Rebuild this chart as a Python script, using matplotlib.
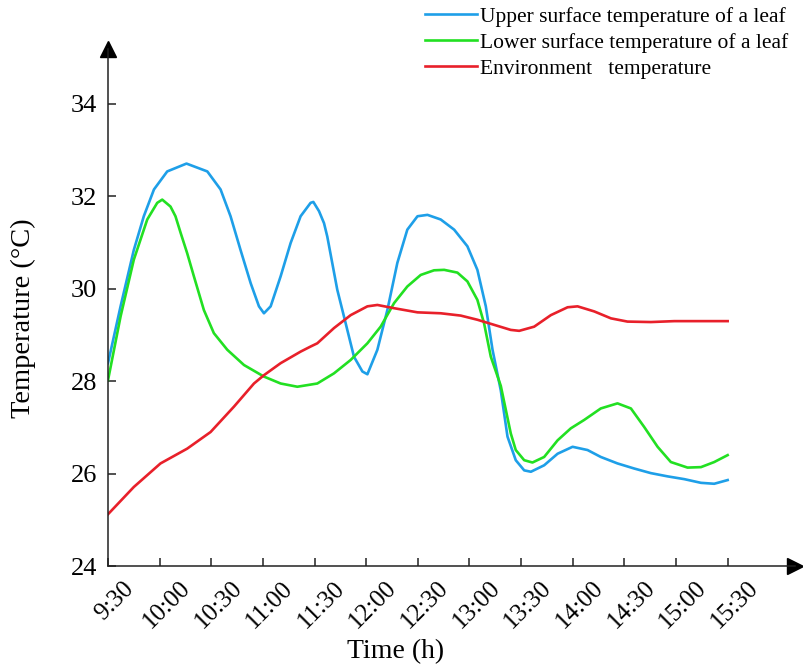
import numpy as np
import matplotlib
matplotlib.use("Agg")
import matplotlib.pyplot as plt
from matplotlib.transforms import ScaledTranslation

plt.rcParams["font.family"] = ["Liberation Serif", "DejaVu Serif"]

# readings, minutes after 9:30
upper_min = [0, 7.3, 15, 20.8, 26.7, 34.4, 45.6, 57.7, 65.4, 71.2, 77, 82.9, 87.7,
             90.6, 94.5, 100.3, 106.1, 111.9, 117.7, 119.3, 122.6, 125.5, 127.4,
             133.2, 138.1, 142.9, 147.8, 150.7, 156.5, 162.3, 168.1, 173.9, 179.8,
             185.6, 193.3, 201.1, 208.8, 214.6, 219.5, 223.4, 228.2, 232.1, 236.9,
             241.8, 245.7, 253.4, 261.2, 269.9, 278.6, 286.3, 296, 305.7, 315.4,
             325.1, 334.8, 344.5, 352.2, 360]
upper_temp = [28.39, 29.62, 30.84, 31.57, 32.15, 32.54, 32.71, 32.54, 32.15, 31.57,
              30.84, 30.12, 29.62, 29.47, 29.62, 30.27, 30.99, 31.57, 31.86, 31.88,
              31.68, 31.42, 31.13, 29.98, 29.25, 28.53, 28.21, 28.15, 28.68, 29.54,
              30.56, 31.28, 31.57, 31.60, 31.50, 31.28, 30.92, 30.41, 29.62, 28.68,
              27.80, 26.80, 26.29, 26.07, 26.04, 26.18, 26.43, 26.58, 26.51, 26.36,
              26.22, 26.11, 26.01, 25.94, 25.88, 25.80, 25.78, 25.86]

lower_min = [0, 7.3, 15, 22.8, 28.6, 31.5, 36.3, 39.2, 42.2, 46, 49.9, 55.7, 61.5,
             69.3, 79, 90.6, 100.3, 110, 121.6, 131.3, 141, 150.7, 158.4, 166.2,
             173.9, 181.7, 189.4, 195.3, 203, 208.8, 214.6, 218.5, 222.4, 228.2, 234,
             236.9, 241.8, 246.6, 253.4, 261.2, 268.9, 276.6, 286.3, 296, 303.8,
             311.5, 319.3, 327, 336.7, 344.5, 352.2, 360]
lower_temp = [28.02, 29.40, 30.63, 31.50, 31.86, 31.93, 31.78, 31.57, 31.21, 30.77,
              30.27, 29.54, 29.04, 28.68, 28.35, 28.10, 27.95, 27.88, 27.95, 28.17,
              28.46, 28.82, 29.18, 29.69, 30.05, 30.30, 30.40, 30.41, 30.35, 30.16,
              29.76, 29.25, 28.53, 27.90, 26.87, 26.51, 26.29, 26.24, 26.36, 26.72,
              26.98, 27.16, 27.41, 27.52, 27.41, 27.01, 26.58, 26.25, 26.13, 26.14,
              26.25, 26.40]

env_min = [0, 15, 30.5, 46, 59.6, 73.2, 84.8, 90.6, 100.3, 111.9, 117.7, 121.6,
           131.3, 141, 150.7, 156.5, 166.2, 179.8, 193.3, 204.9, 214.6, 224.3, 234,
           238.9, 247.6, 257.3, 267, 272.8, 282.5, 292.2, 301.8, 315.4, 329, 344.5, 360]
env_temp = [25.12, 25.71, 26.22, 26.54, 26.90, 27.45, 27.95, 28.13, 28.39, 28.64,
            28.75, 28.82, 29.15, 29.43, 29.62, 29.65, 29.58, 29.49, 29.47, 29.42,
            29.33, 29.22, 29.11, 29.09, 29.18, 29.43, 29.60, 29.62, 29.51, 29.36,
            29.29, 29.28, 29.30, 29.30, 29.30]

tick_labels = ["9:30", "10:00", "10:30", "11:00", "11:30", "12:00", "12:30",
               "13:00", "13:30", "14:00", "14:30", "15:00", "15:30"]
y_ticks = [24, 26, 28, 30, 32, 34]


def to_hours(minutes):
    return 9.5 + np.array(minutes) / 60.0


fig = plt.figure(figsize=(8.04, 6.68), dpi=100)
ax = fig.add_axes([108 / 804, 102 / 668, (795.5 - 108) / 804, (566 - 49) / 668])

ax.plot(to_hours(upper_min), upper_temp, color="#1e9fe8", lw=1.9,
        label="Upper surface temperature of a leaf")
ax.plot(to_hours(lower_min), lower_temp, color="#22e022", lw=1.9,
        label="Lower surface temperature of a leaf")
ax.plot(to_hours(env_min), env_temp, color="#e8202a", lw=1.9,
        label="Environment   temperature")

ax.set_xlim(9.5, 16.157)
ax.set_ylim(24, 35.19)

# axes with arrow heads
for side in ["top", "right"]:
    ax.spines[side].set_visible(False)
for side in ["left", "bottom"]:
    ax.spines[side].set_linewidth(1.1)
    ax.spines[side].set_color("#222222")
ax.plot(0, 1, marker="^", ms=11.5, color="black", transform=ax.transAxes, clip_on=False)
ax.plot(1, 0, marker=">", ms=11.5, color="black", transform=ax.transAxes, clip_on=False)

xt = 9.5 + np.arange(len(tick_labels)) * 0.5
ax.set_xticks(xt)
ax.set_xticklabels(tick_labels, rotation=45, ha="center", va="top", fontsize=18)
ax.set_yticks(y_ticks)
ax.set_yticklabels([str(v) for v in y_ticks], fontsize=19)
ax.tick_params(direction="in", length=6, width=1.1, color="#222222", pad=8)
shift = ScaledTranslation(7 / 100, 0, fig.dpi_scale_trans)
for lab in ax.get_xticklabels():
    lab.set_transform(lab.get_transform() + shift)

ax.set_xlabel("Time (h)", fontsize=20)
ax.xaxis.set_label_coords(0.418, -0.141)
ax.set_ylabel("Temperature (°C)", fontsize=20.5)
ax.yaxis.set_label_coords(-0.1047, 0.48)

ax.legend(loc="upper left", bbox_to_anchor=(0.529, 0.990), bbox_transform=fig.transFigure,
          frameon=False, fontsize=15.5, handlelength=2.4, handletextpad=0.15,
          labelspacing=0.27, borderpad=0, borderaxespad=0)

fig.savefig("out.png", dpi=100)
